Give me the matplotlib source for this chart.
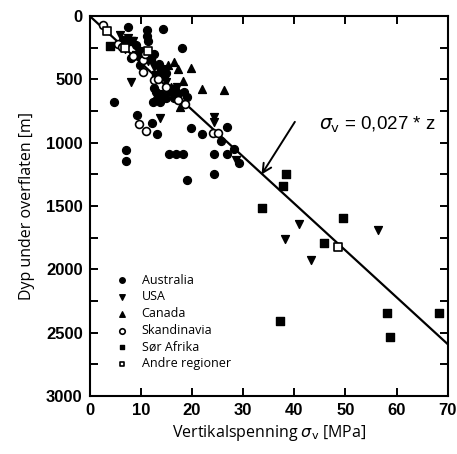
import numpy as np
import matplotlib
matplotlib.use('Agg')
import matplotlib.pyplot as plt

# data: (stress MPa, depth m)
aus_x = [7.6, 11.2, 11.2, 11.5, 14.3, 18.0, 9.0, 10.5, 12.5, 13.5, 14.5, 15.0, 12.5, 13.0, 14.0,
         15.0, 16.5, 12.3, 13.8, 15.5, 18.5, 19.0, 4.8, 7.1, 7.1, 9.2, 12.1, 13.1, 15.6, 16.9,
         18.3, 19.1, 19.9, 21.9, 24.4, 24.4, 26.8, 26.8, 28.2, 29.2, 25.7, 8.0, 6.5, 9.8]
aus_z = [84, 110, 160, 200, 100, 257, 230, 280, 300, 380, 420, 450, 570, 600, 620,
         650, 650, 676, 676, 590, 600, 640, 680, 1060, 1144, 781, 849, 936, 1094, 1094,
         1094, 1297, 884, 936, 1094, 1249, 875, 1094, 1052, 1160, 986, 330, 190, 390]

usa_x = [6.0, 7.5, 8.5, 7.0, 9.5, 10.0, 11.5, 12.5, 13.5, 15.0, 17.0, 16.0, 8.1, 13.8,
         24.4, 24.4, 28.7, 40.9, 38.2, 43.2, 56.4]
usa_z = [150, 175, 200, 260, 280, 330, 360, 400, 430, 520, 560, 610, 518, 810,
         800, 840, 1134, 1644, 1765, 1928, 1691]

can_x = [15.4, 16.4, 17.3, 19.9, 18.2, 21.9, 26.3, 12.8, 13.4, 17.7, 16.0, 17.2]
can_z = [384, 363, 416, 408, 513, 581, 587, 652, 660, 717, 560, 595]

sca_x = [2.7, 5.6, 8.5, 10.5, 10.8, 10.5, 12.5, 13.3, 17.3, 18.6, 24.2, 25.1, 9.7, 11.1, 6.3, 15.0]
sca_z = [70, 225, 320, 350, 297, 440, 508, 495, 665, 695, 925, 925, 855, 910, 245, 560]

saf_x = [4.0, 8.0, 9.0, 12.0, 13.0, 14.5, 16.5, 17.0, 38.3, 37.8, 33.6, 49.5, 45.8, 37.2, 58.2, 58.6, 68.3]
saf_z = [240, 200, 310, 330, 470, 470, 580, 620, 1249, 1342, 1520, 1594, 1791, 2410, 2349, 2533, 2349]

oth_x = [3.5, 7.0, 11.5, 48.6]
oth_z = [120, 250, 280, 1823]

k = 0.027  # sigma_v = 0.027 * z
line_x = np.array([0, 70])

fig = plt.figure(figsize=(4.57, 4.54), dpi=100)
ax = fig.add_axes([0.196, 0.128, 0.784, 0.837])

ms = 32
ax.scatter(aus_x, aus_z, marker='o', s=ms, c='black', label='Australia', zorder=3)
ax.scatter(usa_x, usa_z, marker='v', s=ms, c='black', label='USA', zorder=3)
ax.scatter(can_x, can_z, marker='^', s=ms, c='black', label='Canada', zorder=3)
ax.scatter(sca_x, sca_z, marker='o', s=ms, facecolors='white', edgecolors='black',
           linewidths=1.2, label='Skandinavia', zorder=4)
ax.scatter(saf_x, saf_z, marker='s', s=ms * 0.8, c='black', label='Sør Afrika', zorder=3)
ax.scatter(oth_x, oth_z, marker='s', s=ms * 0.8, facecolors='white', edgecolors='black',
           linewidths=1.2, label='Andre regioner', zorder=4)

ax.plot(line_x, line_x / k, color='black', lw=1.6, zorder=2)

ax.annotate('', xy=(33.3, 1271), xytext=(40.4, 818),
            arrowprops=dict(arrowstyle='->', color='black', lw=1.4, mutation_scale=16))
ax.text(44.8, 862, r'$\sigma_{\mathrm{v}}$ = 0,027 * z', fontsize=13.5, family='Liberation Sans',
        ha='left', va='center')

ax.set_xlim(0, 70)
ax.set_ylim(3000, 0)
ax.set_xticks(np.arange(0, 71, 10))
ax.set_yticks(np.arange(0, 3001, 250))
ax.set_yticklabels([str(v) if v % 500 == 0 else '' for v in range(0, 3001, 250)])
ax.tick_params(direction='in', top=True, right=True, length=6, width=1.4, pad=5)
for lab in ax.get_xticklabels() + ax.get_yticklabels():
    lab.set_fontfamily('Liberation Sans')
    lab.set_fontweight('bold')
    lab.set_fontsize(12)
for sp in ax.spines.values():
    sp.set_linewidth(1.5)

ax.set_xlabel(r'Vertikalspenning $\sigma_{\mathrm{v}}$ [MPa]', fontsize=11.5, family='Open Sans', labelpad=4)
ax.set_ylabel('Dyp under overflaten [m]', fontsize=11.5, family='Open Sans', labelpad=8)

leg = ax.legend(loc='upper left', bbox_to_anchor=(0.03, 0.345), frameon=False,
                prop={'family': 'Open Sans', 'size': 9}, handletextpad=0.6,
                labelspacing=0.3, markerscale=0.7, borderpad=0.2)

fig.savefig('out.png', dpi=100)
